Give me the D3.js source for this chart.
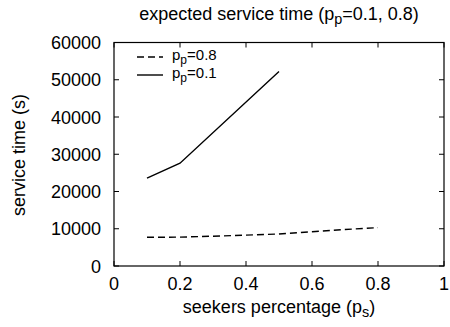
<!DOCTYPE html>
<html><head><meta charset="utf-8">
<script src="https://cdn.jsdelivr.net/npm/d3@7"></script>
<style>body{margin:0;background:#fff}svg{display:block}text{font-family:"Liberation Sans",Arial,sans-serif;fill:#000}</style>
</head><body><svg id="c" width="450" height="327"></svg>
<script>
const xTicks = [0, 0.2, 0.4, 0.6, 0.8, 1];
const xTickLabels = ["0", "0.2", "0.4", "0.6", "0.8", "1"];
const yTicks = [0, 10000, 20000, 30000, 40000, 50000, 60000];
const xHigh = [0.1, 0.2, 0.3, 0.4, 0.5, 0.6, 0.7, 0.8];
const yHigh = [7700, 7750, 8000, 8300, 8600, 9200, 9800, 10300]; // p_p=0.8
const xLow = [0.1, 0.2, 0.5];
const yLow = [23600, 27600, 52200]; // p_p=0.1

const svg = d3.select("#c");
const L = 114, R = 444, T = 42.5, B = 266;
const x = d3.scaleLinear().domain([0, 1]).range([L, R]);
const y = d3.scaleLinear().domain([0, 60000]).range([B, T]);
const fs = 18;

// ticks (mirrored, inside)
const tl = 5;
const g = svg.append("g").attr("stroke", "#000").attr("stroke-width", 1);
xTicks.forEach(v => {
  g.append("line").attr("x1", x(v)).attr("x2", x(v)).attr("y1", B).attr("y2", B - tl);
  g.append("line").attr("x1", x(v)).attr("x2", x(v)).attr("y1", T).attr("y2", T + tl);
});
yTicks.forEach(v => {
  g.append("line").attr("x1", L).attr("x2", L + tl).attr("y1", y(v)).attr("y2", y(v));
  g.append("line").attr("x1", R).attr("x2", R - tl).attr("y1", y(v)).attr("y2", y(v));
});
svg.append("rect").attr("x", L).attr("y", T).attr("width", R - L).attr("height", B - T)
  .attr("fill", "none").attr("stroke", "#000").attr("stroke-width", 1.2);

xTicks.forEach((v, i) => {
  svg.append("text").attr("x", x(v)).attr("y", 290).attr("text-anchor", "middle")
    .attr("font-size", fs).text(xTickLabels[i]);
});
yTicks.forEach(v => {
  svg.append("text").attr("x", 101).attr("y", y(v) + 6.5).attr("text-anchor", "end")
    .attr("font-size", fs).text(String(v));
});

const line = d3.line().x(d => x(d[0])).y(d => y(d[1]));
svg.append("path").datum(xHigh.map((v, i) => [v, yHigh[i]])).attr("d", line)
  .attr("fill", "none").attr("stroke", "#000").attr("stroke-width", 1.4).attr("stroke-dasharray", "7,4");
svg.append("path").datum(xLow.map((v, i) => [v, yLow[i]])).attr("d", line)
  .attr("fill", "none").attr("stroke", "#000").attr("stroke-width", 1.4);

// legend
function sub(t, size, base, s, rest) {
  t.attr("font-size", size);
  t.append("tspan").text(base);
  t.append("tspan").attr("font-size", size * 0.8).attr("dy", 4).text(s);
  t.append("tspan").attr("dy", -4).text(rest);
}
const legend = [{label: "0.8", dash: "7,4", y: 57}, {label: "0.1", dash: null, y: 75}];
legend.forEach(d => {
  svg.append("line").attr("x1", 137).attr("x2", 163).attr("y1", d.y).attr("y2", d.y)
    .attr("stroke", "#000").attr("stroke-width", 1.4).attr("stroke-dasharray", d.dash);
  const t = svg.append("text").attr("x", 172).attr("y", d.y + 3);
  sub(t, 15, "p", "p", "=" + d.label);
});

// title
const tt = svg.append("text").attr("x", 279).attr("y", 20).attr("text-anchor", "middle");
sub(tt, fs, "expected service time (p", "p", "=0.1, 0.8)");
// x label
const xl = svg.append("text").attr("x", 279).attr("y", 313).attr("text-anchor", "middle");
sub(xl, fs, "seekers percentage (p", "s", ")");
// y label
svg.append("text").attr("transform", "translate(25,155) rotate(-90)").attr("text-anchor", "middle")
  .attr("font-size", fs).text("service time (s)");
</script></body></html>
